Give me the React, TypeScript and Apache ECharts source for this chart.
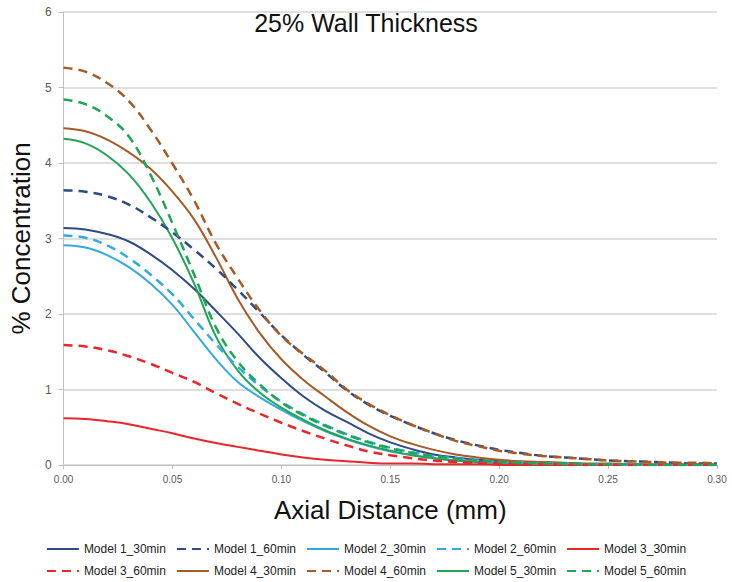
import React, { useEffect, useRef } from "react";
import * as echarts from "echarts";

const distance = [0, 0.01, 0.02, 0.03, 0.04, 0.05, 0.06, 0.07, 0.08, 0.09, 0.1, 0.11, 0.12, 0.13, 0.14, 0.15, 0.16, 0.17, 0.18, 0.19, 0.2, 0.21, 0.22, 0.23, 0.24, 0.25, 0.26, 0.27, 0.28, 0.29, 0.3];

const model1_30 = [3.14, 3.12, 3.06, 2.96, 2.79, 2.58, 2.33, 2.04, 1.74, 1.42, 1.15, 0.91, 0.72, 0.57, 0.42, 0.3, 0.21, 0.14, 0.1, 0.07, 0.05, 0.03, 0.02, 0.02, 0.01, 0.01, 0, 0, 0, 0, 0];
const model1_60 = [3.64, 3.62, 3.56, 3.45, 3.28, 3.08, 2.85, 2.6, 2.32, 2.02, 1.72, 1.46, 1.23, 0.99, 0.8, 0.65, 0.53, 0.42, 0.33, 0.26, 0.2, 0.16, 0.12, 0.1, 0.08, 0.06, 0.05, 0.04, 0.03, 0.02, 0.02];
const model2_30 = [2.91, 2.88, 2.78, 2.62, 2.4, 2.12, 1.76, 1.4, 1.1, 0.9, 0.73, 0.58, 0.45, 0.34, 0.25, 0.18, 0.13, 0.09, 0.06, 0.04, 0.03, 0.02, 0.01, 0.01, 0.01, 0, 0, 0, 0, 0, 0];
const model2_60 = [3.04, 3.01, 2.91, 2.74, 2.52, 2.26, 1.93, 1.6, 1.3, 1.05, 0.84, 0.67, 0.53, 0.41, 0.31, 0.23, 0.17, 0.12, 0.09, 0.06, 0.04, 0.03, 0.02, 0.02, 0.01, 0.01, 0, 0, 0, 0, 0];
const model3_30 = [0.62, 0.61, 0.58, 0.54, 0.48, 0.42, 0.35, 0.29, 0.24, 0.19, 0.14, 0.1, 0.07, 0.05, 0.03, 0.02, 0.02, 0.01, 0.01, 0.01, 0, 0, 0, 0, 0, 0, 0, 0, 0, 0, 0];
const model3_60 = [1.59, 1.57, 1.52, 1.44, 1.34, 1.22, 1.1, 0.95, 0.81, 0.68, 0.56, 0.45, 0.35, 0.26, 0.18, 0.13, 0.09, 0.06, 0.04, 0.03, 0.02, 0.01, 0.01, 0, 0, 0, 0, 0, 0, 0, 0];
const model4_30 = [4.46, 4.42, 4.31, 4.14, 3.92, 3.62, 3.25, 2.75, 2.2, 1.75, 1.4, 1.13, 0.91, 0.7, 0.52, 0.38, 0.28, 0.2, 0.14, 0.1, 0.07, 0.05, 0.04, 0.03, 0.02, 0.02, 0.01, 0.01, 0.01, 0.01, 0.01];
const model4_60 = [5.26, 5.21, 5.06, 4.82, 4.44, 3.99, 3.5, 2.93, 2.47, 2.05, 1.71, 1.47, 1.25, 1.0, 0.81, 0.66, 0.53, 0.42, 0.32, 0.25, 0.19, 0.15, 0.12, 0.1, 0.08, 0.06, 0.05, 0.04, 0.03, 0.03, 0.02];
const model5_30 = [4.32, 4.26, 4.1, 3.85, 3.48, 3.0, 2.4, 1.7, 1.25, 0.96, 0.76, 0.6, 0.46, 0.35, 0.26, 0.19, 0.13, 0.09, 0.06, 0.04, 0.03, 0.02, 0.02, 0.01, 0.01, 0.01, 0, 0, 0, 0, 0];
const model5_60 = [4.84, 4.78, 4.62, 4.35, 3.84, 3.2, 2.52, 1.82, 1.37, 1.07, 0.83, 0.66, 0.52, 0.4, 0.3, 0.22, 0.16, 0.12, 0.08, 0.06, 0.04, 0.03, 0.02, 0.02, 0.01, 0.01, 0.01, 0, 0, 0, 0];

const seriesNames = [
  "Model 1_30min", "Model 1_60min", "Model 2_30min", "Model 2_60min", "Model 3_30min",
  "Model 3_60min", "Model 4_30min", "Model 4_60min", "Model 5_30min", "Model 5_60min",
];
const seriesValues = [model1_30, model1_60, model2_30, model2_60, model3_30, model3_60, model4_30, model4_60, model5_30, model5_60];
const seriesColors = ["#2E4B82", "#2E4B82", "#33AADF", "#33AADF", "#E8262B", "#E8262B", "#A65A25", "#A65A25", "#20A556", "#20A556"];
const seriesDashed = [false, true, false, true, false, true, false, true, false, true];

const yTicks = [0, 1, 2, 3, 4, 5, 6];

const FONT = "'Liberation Sans', Arial, sans-serif";

export default function App() {
  const ref = useRef<HTMLDivElement>(null);
  useEffect(() => {
    if (!ref.current) return;
    const chart = echarts.init(ref.current, null, { renderer: "svg" });
    const series = seriesNames.map((name, i) => ({
      name,
      type: "line",
      smooth: 0.4,
      showSymbol: false,
      symbol: "none",
      data: distance.map((d, j) => [d, seriesValues[i][j]]),
      lineStyle: {
        color: seriesColors[i],
        width: seriesDashed[i] ? 2.5 : 2,
        type: seriesDashed[i] ? [9, 6] : "solid",
      },
      itemStyle: { color: seriesColors[i] },
      z: seriesDashed[i] ? 3 : 2,
    }));
    const legendCommon = {
      left: "center",
      itemWidth: 32,
      itemHeight: 4,
      itemGap: 10,
      itemStyle: { opacity: 0, borderWidth: 0 },
      textStyle: { fontFamily: FONT, fontSize: 12, color: "#222" },
      padding: 0,
    };
    chart.setOption({
      animation: false,
      backgroundColor: "#fff",
      title: {
        text: "25% Wall Thickness",
        left: "center",
        top: 5,
        textStyle: { fontFamily: FONT, fontSize: 25, fontWeight: "normal", color: "#111" },
      },
      grid: { left: 55, right: 15, top: 12, bottom: 117, containLabel: false },
      legend: [
        { ...legendCommon, top: 543, data: seriesNames.slice(0, 5) },
        { ...legendCommon, top: 565, data: seriesNames.slice(5, 10) },
      ],
      xAxis: {
        type: "value",
        min: 0,
        max: 0.3,
        interval: 0.05,
        name: "Axial Distance (mm)",
        nameLocation: "middle",
        nameGap: 32,
        nameTextStyle: { fontFamily: FONT, fontSize: 26, color: "#111" },
        axisLine: { lineStyle: { color: "#BFBFBF", width: 1 } },
        axisTick: { show: true, length: 4, lineStyle: { color: "#BFBFBF" } },
        axisLabel: {
          fontFamily: FONT,
          fontSize: 10,
          color: "#595959",
          margin: 9,
          formatter: (v: number) => v.toFixed(2),
        },
        splitLine: { show: false },
      },
      yAxis: {
        type: "value",
        min: yTicks[0],
        max: yTicks[yTicks.length - 1],
        interval: 1,
        name: "% Concentration",
        nameLocation: "middle",
        nameGap: 27,
        nameTextStyle: { fontFamily: FONT, fontSize: 26, color: "#111" },
        axisLine: { show: true, lineStyle: { color: "#BFBFBF", width: 1 } },
        axisTick: { show: true, length: 5, lineStyle: { color: "#BFBFBF" } },
        axisLabel: { fontFamily: FONT, fontSize: 12, color: "#595959", margin: 12 },
        splitLine: { show: true, lineStyle: { color: "#D4D4D4", width: 1.5 } },
      },
      series,
    });
    return () => chart.dispose();
  }, []);
  return (
    <div
      ref={ref}
      style={{ position: "fixed", left: 0, top: 0, width: 732, height: 582, background: "#fff" }}
    />
  );
}
